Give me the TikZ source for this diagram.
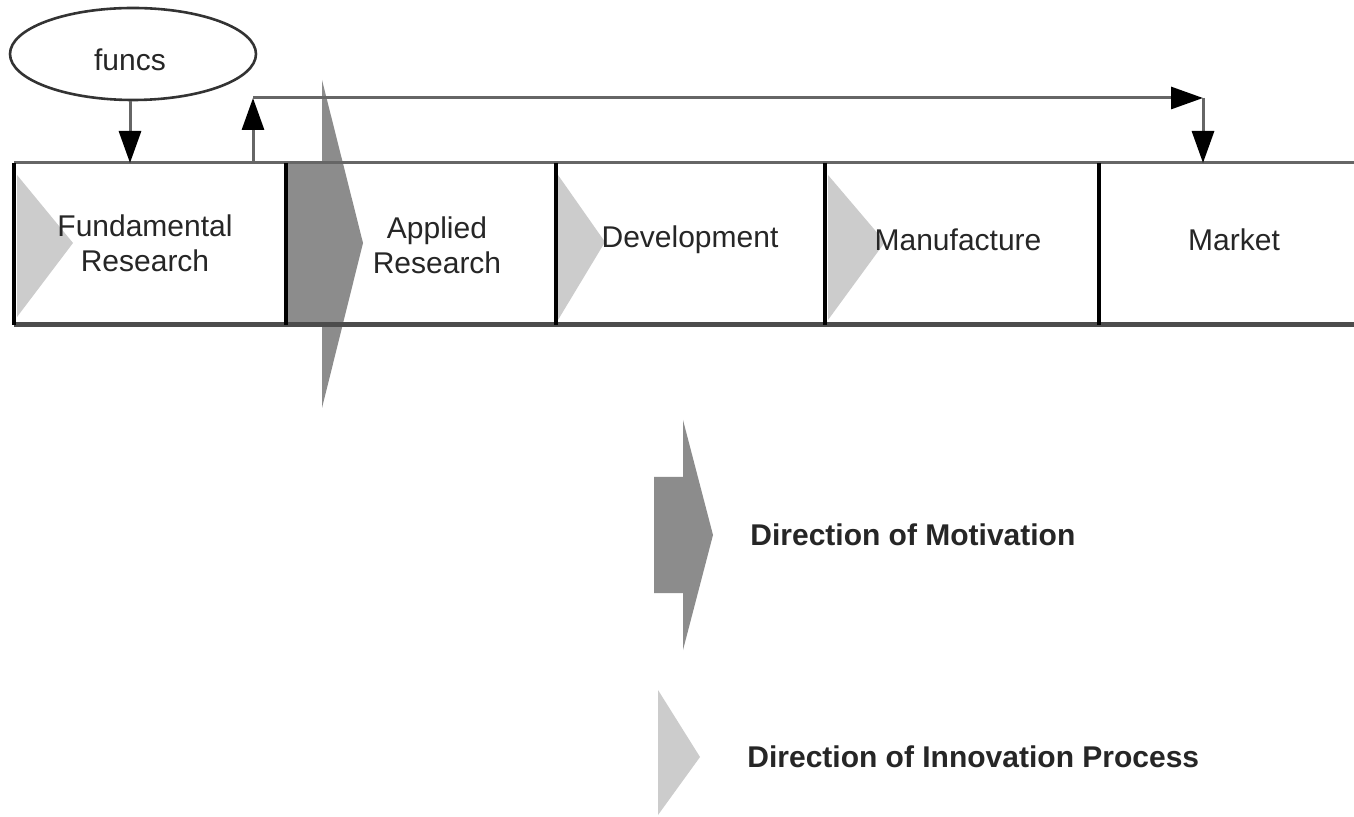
\documentclass[tikz,border=0pt]{standalone}
\usepackage{fontspec}
\setmainfont{Liberation Sans}
\usetikzlibrary{arrows.meta,shapes.geometric}
\definecolor{darkarrow}{gray}{0.55}
\definecolor{lightarrow}{gray}{0.8}
\definecolor{linegray}{gray}{0.4}
\begin{document}
\begin{tikzpicture}[x=0.5pt,y=-0.5pt,
  stage/.style={rectangle, draw=none, inner sep=0pt, outer sep=0pt, minimum height=81pt},
  lbl/.style={font=\fontsize{15}{17.5}\selectfont, align=center, text=black!85, inner sep=0pt},
  legendlbl/.style={font=\fontsize{15}{17.5}\selectfont\bfseries, text=black!85, inner sep=0pt, anchor=west},
  arr/.style={draw=linegray, line width=1.5pt, -{Triangle[length=16pt,width=11pt,color=black]}},
  topline/.style={draw=black!60, line width=1.5pt},
  botline/.style={draw=black!70, line width=2.5pt},
  divider/.style={draw=black, line width=2pt},
  motiv/.style={fill=darkarrow},
  innov/.style={fill=lightarrow}
]
\fill[white] (0,0) rectangle (1354,817);
\useasboundingbox (0,0) rectangle (1354,817);

% stage boxes
\node[stage, minimum width=136pt]   (fr) at (150,244) {};
\node[stage, minimum width=135pt]   (ar) at (421,244) {};
\node[stage, minimum width=134.5pt] (dv) at (690.5,244) {};
\node[stage, minimum width=137pt]   (mf) at (962,244) {};
\node[stage, minimum width=138pt]   (mk) at (1237,244) {};

% innovation arrows inside boxes
\fill[innov] (17,175) -- (73,243) -- (17,317) -- cycle;
\fill[innov] (558,175) -- (605,242) -- (558,320) -- cycle;
\fill[innov] (828,175) -- (885,242) -- (828,320) -- cycle;

% motivation arrow
\fill[motiv] (287,163) -- (322,163) -- (322,80) -- (363,243) -- (322,408) -- (322,325) -- (287,325) -- cycle;

% box lines
\draw[topline] (fr.north west) -- (mk.north east);
\draw[botline] (fr.south west) -- (mk.south east);
\draw[divider] (fr.north west) -- (fr.south west);
\draw[divider] (ar.north west) -- (ar.south west);
\draw[divider] (dv.north west) -- (dv.south west);
\draw[divider] (mf.north west) -- (mf.south west);
\draw[divider] (mk.north west) -- (mk.south west);

% labels
\node[lbl] (frt) at (145,243) {Fundamental\\Research};
\node[lbl] (art) at (437,245) {Applied\\Research};
\node[lbl] (dvt) at (690,240) {Development};
\node[lbl] (mft) at (958,240) {Manufacture};
\node[lbl] (mkt) at (1234,240) {Market};

% funcs
\node[ellipse, draw=black!80, line width=1.3pt, minimum width=123pt, minimum height=46pt, inner sep=0pt] (fn) at (133,54) {};
\node[lbl] (fnt) at (130,60) {funcs};

% connectors
\coordinate (c1) at (253,98);
\coordinate (c2) at (1203,98);
\draw[arr] (fn.south -| fnt) -- (fnt |- fr.north);
\draw[arr] (c1 |- fr.north) -- (c1);
\draw[arr] (c1) -- (c2);
\draw[arr] (c2) -- (c2 |- mk.north);

% legend
\fill[motiv] (654,477) -- (683,477) -- (683,420) -- (713,535) -- (683,650) -- (683,593) -- (654,593) -- cycle;
\fill[innov] (658,690) -- (700,757) -- (658,815) -- cycle;
\node[legendlbl] (lm) at (750,535) {Direction of Motivation};
\node[legendlbl] (li) at (747,757) {Direction of Innovation Process};
\end{tikzpicture}
\end{document}
